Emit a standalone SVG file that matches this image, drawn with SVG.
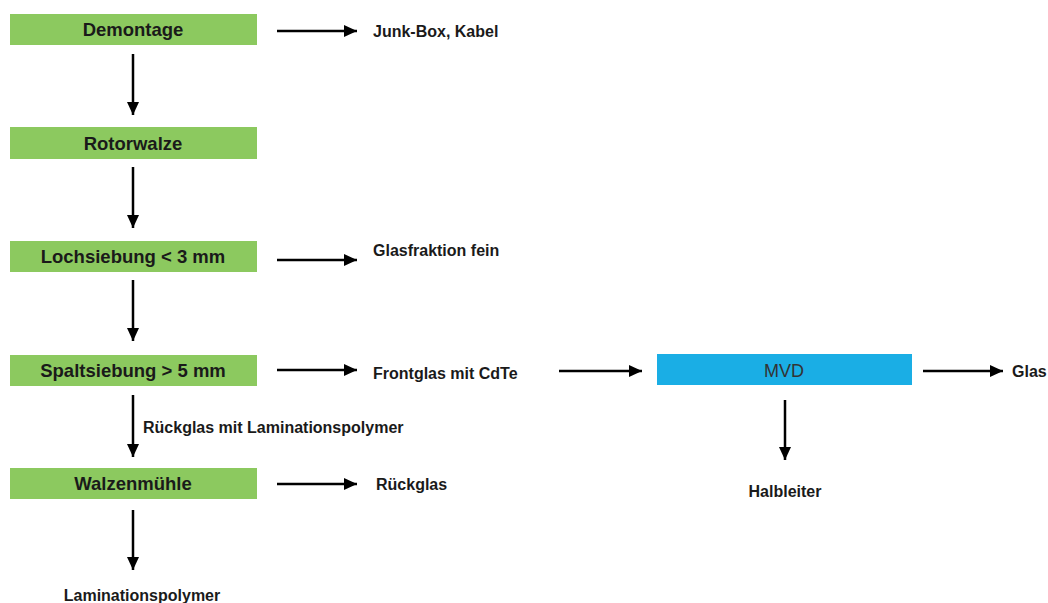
<svg xmlns="http://www.w3.org/2000/svg" width="1048" height="603" viewBox="0 0 1048 603">
<defs>
<style>
.box{fill:#8CC95F}
.mvd{fill:#1AAEE5}
.bl{font-family:"Liberation Sans",Arial,sans-serif;font-weight:bold;font-size:18.5px;fill:#1a1a1a;text-anchor:middle}
.sl{font-family:"Liberation Sans",Arial,sans-serif;font-weight:bold;font-size:16px;fill:#1a1a1a}
.ml{font-family:"Liberation Sans",Arial,sans-serif;font-size:18px;fill:#333;text-anchor:middle}
.ar{stroke:#000;stroke-width:2.5;fill:none;marker-end:url(#ah)}
</style>
<marker id="ah" markerUnits="userSpaceOnUse" markerWidth="13" markerHeight="12" refX="13" refY="6" orient="auto">
<path d="M0,0 L13,6 L0,12 z" fill="#000"/>
</marker>
</defs>
<rect width="1048" height="603" fill="#fff"/>
<g id="n-demontage"><rect class="box" x="10" y="14" width="247" height="31"/><text class="bl" x="133" y="36">Demontage</text></g>
<g id="n-rotorwalze"><rect class="box" x="10" y="127" width="247" height="32"/><text class="bl" x="133" y="149.5">Rotorwalze</text></g>
<g id="n-lochsiebung"><rect class="box" x="10" y="241" width="247" height="31"/><text class="bl" x="133" y="263">Lochsiebung &lt; 3 mm</text></g>
<g id="n-spaltsiebung"><rect class="box" x="10" y="355" width="247" height="31"/><text class="bl" x="133" y="377">Spaltsiebung &gt; 5 mm</text></g>
<g id="n-walzenmuehle"><rect class="box" x="10" y="468" width="247" height="31"/><text class="bl" x="133" y="490">Walzenmühle</text></g>
<g id="n-mvd"><rect class="mvd" x="657" y="354" width="255" height="31"/><text class="ml" x="784" y="377">MVD</text></g>
<g id="n-junkbox"><text class="sl" x="373" y="37">Junk-Box, Kabel</text></g>
<g id="n-glasfein"><text class="sl" x="373" y="256">Glasfraktion fein</text></g>
<g id="n-frontglas"><text class="sl" x="373" y="379">Frontglas mit CdTe</text></g>
<g id="n-rueckglas"><text class="sl" x="376" y="490">Rückglas</text></g>
<g id="n-glas"><text class="sl" x="1012" y="377">Glas</text></g>
<g id="n-halbleiter"><text class="sl" x="785" y="497" text-anchor="middle">Halbleiter</text></g>
<g id="n-lamination"><text class="sl" x="142" y="601" text-anchor="middle">Laminationspolymer</text></g>
<g id="connectors">
<line class="ar" x1="133" y1="54" x2="133" y2="115"/>
<line class="ar" x1="133" y1="167" x2="133" y2="228"/>
<line class="ar" x1="133" y1="280" x2="133" y2="341"/>
<line class="ar" x1="133" y1="395" x2="133" y2="457"/>
<line class="ar" x1="133" y1="510" x2="133" y2="570"/>
<line class="ar" x1="785" y1="400" x2="785" y2="460"/>
<line class="ar" x1="277" y1="31" x2="357" y2="31"/>
<line class="ar" x1="277" y1="260" x2="357" y2="260"/>
<line class="ar" x1="277" y1="370" x2="357" y2="370"/>
<line class="ar" x1="277" y1="484" x2="357" y2="484"/>
<line class="ar" x1="559" y1="371" x2="642" y2="371"/>
<line class="ar" x1="923" y1="371" x2="1003" y2="371"/>
<text class="sl" x="143" y="433">Rückglas mit Laminationspolymer</text>
</g>
</svg>
